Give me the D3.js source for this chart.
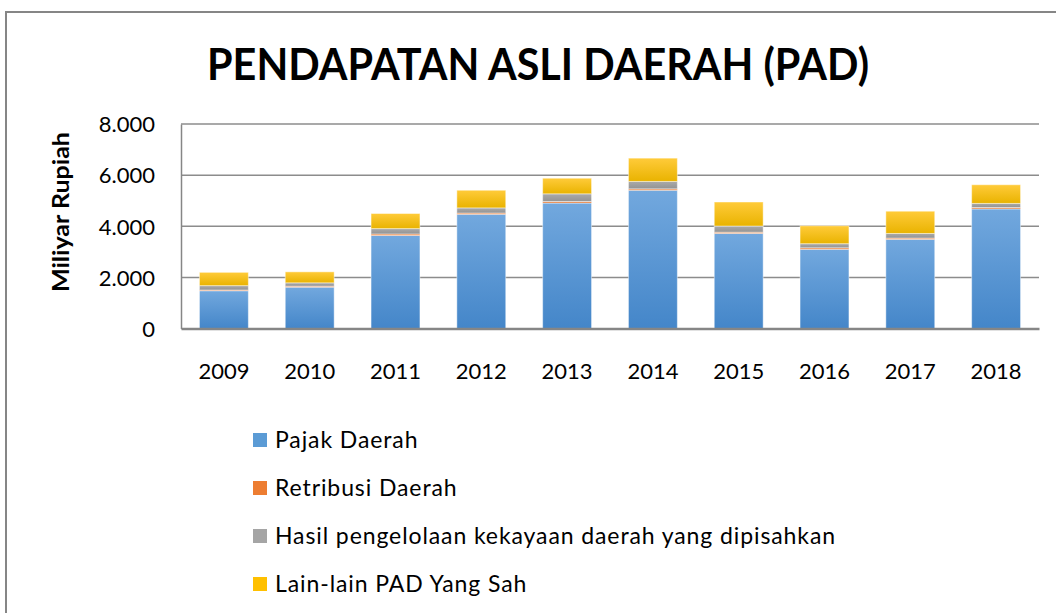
<!DOCTYPE html>
<html>
<head>
<meta charset="utf-8">
<script src="https://cdn.jsdelivr.net/npm/d3@7"></script>
<style>
  body { margin: 0; background: #fff; }
  svg { display: block; font-family: Lato, "Open Sans", sans-serif; }
</style>
</head>
<body>
<svg id="viz"></svg>
<script>
const width = 1056, height = 613;

// data (Miliyar Rupiah)
const years = ["2009", "2010", "2011", "2012", "2013", "2014", "2015", "2016", "2017", "2018"];
const pajakDaerah     = [1480, 1620, 3640, 4470, 4910, 5410, 3720, 3100, 3490, 4680];
const retribusiDaerah = [  30,   40,   60,   50,   60,   55,   50,   60,   50,   55];
const hasilKekayaan   = [ 170,  130,  210,  200,  300,  290,  240,  160,  180,  160];
const lainLain        = [ 520,  430,  590,  690,  610,  910,  940,  700,  870,  730];
const seriesNames = ["Pajak Daerah", "Retribusi Daerah",
                     "Hasil pengelolaan kekayaan daerah yang dipisahkan", "Lain-lain PAD Yang Sah"];
const yTicks = [0, 2000, 4000, 6000, 8000];

const table = years.map((y, i) => ({
  year: y,
  s0: pajakDaerah[i], s1: retribusiDaerah[i], s2: hasilKekayaan[i], s3: lainLain[i]
}));

const svg = d3.select("#viz").attr("width", width).attr("height", height);

// gradients like the office chart style
const defs = svg.append("defs");
const grads = [
  ["#72a8de", "#4486c9"],
  ["#f08a45", "#e0702a"],
  ["#aaaaaa", "#939393"],
  ["#ffcb3a", "#e9b300"]
];
grads.forEach((g, i) => {
  const lg = defs.append("linearGradient").attr("id", "g" + i)
    .attr("x1", 0).attr("y1", 0).attr("x2", 0).attr("y2", 1);
  lg.append("stop").attr("offset", "0%").attr("stop-color", g[0]);
  lg.append("stop").attr("offset", "100%").attr("stop-color", g[1]);
});
const legendColors = ["#5b9bd5", "#ed7d31", "#a5a5a5", "#ffc000"];

// outer frame
svg.append("rect")
  .attr("x", 6).attr("y", 12)
  .attr("width", width + 10).attr("height", height + 10)
  .attr("fill", "none").attr("stroke", "#868686").attr("stroke-width", 2);

// title
svg.append("text")
  .attr("x", 538).attr("y", 80)
  .attr("text-anchor", "middle")
  .attr("font-size", 44).attr("font-weight", "bold")
  .attr("textLength", 662).attr("lengthAdjust", "spacingAndGlyphs")
  .text("PENDAPATAN ASLI DAERAH (PAD)");

const x = d3.scaleBand().domain(years).range([181, 1039])
  .paddingInner(0.43).paddingOuter(0.215);
const y = d3.scaleLinear().domain([0, 8000]).range([328.6, 124]);

// gridlines
svg.append("g").selectAll("line")
  .data(yTicks.filter(d => d > 0))
  .join("line")
  .attr("x1", 181).attr("x2", 1039)
  .attr("y1", d => y(d)).attr("y2", d => y(d))
  .attr("stroke", "#8c8c8c").attr("stroke-width", 1.5);

// y axis
const yAxis = svg.append("g")
  .attr("transform", "translate(181,0)")
  .call(d3.axisLeft(y).tickValues(yTicks).tickSize(0).tickPadding(26)
    .tickFormat(d => d3.format(",")(d).replace(/,/g, ".")));
yAxis.select(".domain").attr("stroke", "#868686").attr("stroke-width", 1.5);
yAxis.selectAll("text").attr("font-size", 22).attr("fill", "#000")
  .attr("font-family", "Lato").attr("dy", "0.35em");

// axis title
svg.append("text")
  .attr("transform", "translate(69,212) rotate(-90)")
  .attr("text-anchor", "middle")
  .attr("font-size", 23).attr("font-weight", "bold")
  .attr("textLength", 160).attr("lengthAdjust", "spacingAndGlyphs")
  .text("Miliyar Rupiah");

// stacked bars
const stack = d3.stack().keys(["s0", "s1", "s2", "s3"]);
const layers = stack(table);

svg.append("g").selectAll("g")
  .data(layers)
  .join("g")
  .attr("fill", (d, i) => "url(#g" + i + ")")
  .selectAll("rect")
  .data(d => d)
  .join("rect")
  .attr("x", d => x(d.data.year))
  .attr("width", x.bandwidth())
  .attr("y", d => y(d[1]))
  .attr("height", d => y(d[0]) - y(d[1]))
  .attr("stroke", "rgba(255,255,255,0.45)")
  .attr("stroke-width", 1);

// x axis
const xAxis = svg.append("g")
  .attr("transform", "translate(0,328.6)")
  .call(d3.axisBottom(x).tickSize(0).tickPadding(35));
xAxis.select(".domain").attr("stroke", "#868686").attr("stroke-width", 2.5);
xAxis.selectAll("text").attr("font-size", 22).attr("fill", "#000")
  .attr("font-family", "Lato");

// legend
const legend = svg.append("g").selectAll("g")
  .data(seriesNames)
  .join("g")
  .attr("transform", (d, i) => "translate(253," + (440 + i * 48) + ")");
legend.append("rect")
  .attr("x", 0).attr("y", -7).attr("width", 14).attr("height", 14)
  .attr("fill", (d, i) => legendColors[i]);
legend.append("text")
  .attr("x", 22).attr("dy", "0.35em")
  .attr("font-size", 23)
  .attr("letter-spacing", 0.9)
  .text(d => d);
</script>
</body>
</html>
